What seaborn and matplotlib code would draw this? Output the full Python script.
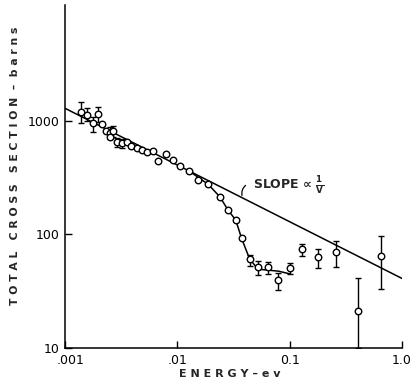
import numpy as np
import pandas as pd
import matplotlib
matplotlib.use("Agg")
import matplotlib.pyplot as plt
import matplotlib.transforms as mtransforms
import seaborn as sns

# ---- data ----
energy = [0.00139, 0.00157, 0.00179, 0.00198, 0.00215, 0.0023, 0.00251, 0.00251,
          0.00269, 0.00292, 0.00319, 0.00353, 0.00384, 0.00434, 0.00481, 0.00532,
          0.0061, 0.00675, 0.00785, 0.00918, 0.01067, 0.01274, 0.0153, 0.0188,
          0.0239, 0.0283, 0.0331, 0.0374, 0.0441, 0.0523, 0.0641, 0.0787, 0.100,
          0.1297, 0.1786, 0.260, 0.405, 0.644]
sigma = [1208, 1129, 954, 1146, 935, 817, 789, 727,
         817, 649, 636, 649, 602, 575, 555, 530,
         544, 444, 509, 453, 401, 363, 302, 277,
         215, 164, 134, 93, 60.6, 51.2, 51.2, 39.4, 50.4,
         74.2, 63.4, 70.6, 21.0, 64.1]
err_low = [955, 990, 805, 986, np.nan, np.nan, 700, np.nan,
           730, 590, 580, np.nan, np.nan, np.nan, np.nan, np.nan,
           np.nan, np.nan, np.nan, np.nan, np.nan, np.nan, np.nan, np.nan,
           np.nan, np.nan, np.nan, np.nan, 52.8, 44.2, 44.7, 32.3, 44.7,
           65.0, 51.0, 52.0, 10.0, 33.0]
err_high = [1480, 1300, 1091, 1337, np.nan, np.nan, 880, np.nan,
            904, 710, 700, np.nan, np.nan, np.nan, np.nan, np.nan,
            np.nan, np.nan, np.nan, np.nan, np.nan, np.nan, np.nan, np.nan,
            np.nan, np.nan, np.nan, np.nan, 66.2, 58.6, 57.8, 45.6, 56.6,
            82.6, 74.2, 88.0, 41.4, 97.0]

# hand-drawn curve through the resonance dip
curve_energy = [0.0127, 0.0188, 0.0239, 0.0283, 0.0331, 0.0374, 0.0441, 0.0523,
                0.0641, 0.080, 0.100]
curve_sigma = [363, 277, 215, 164, 134, 92, 60.6, 49.5, 48.5, 47.5, 45.0]

# 1/v reference line
line_energy = [0.001, 1.0]
line_sigma = [1294, 41]

x_ticks = [0.001, 0.01, 0.1, 1.0]
x_ticklabels = [".001", ".01", "0.1", "1.0"]
y_ticks = [10, 100, 1000]
y_ticklabels = ["10", "100", "1000"]

# ---- plotting ----
sns.set_style("ticks")
plt.rcParams["font.family"] = ["DejaVu Sans"]

fig = plt.figure(figsize=(4.12, 3.82), dpi=100)
ax = fig.add_axes([65 / 412, 34 / 382, 337 / 412, 343 / 382])
ax.set_xscale("log")
ax.set_yscale("log")

pts = pd.DataFrame({"E": energy, "s": sigma, "lo": err_low, "hi": err_high})
has_err = pts.dropna()
ax.errorbar(has_err["E"], has_err["s"],
            yerr=[has_err["s"] - has_err["lo"], has_err["hi"] - has_err["s"]],
            fmt="none", ecolor="black", elinewidth=1.0, capsize=2.2, capthick=1.0,
            zorder=2, clip_on=True)

sns.lineplot(x=line_energy, y=line_sigma, ax=ax, color="black", linewidth=1.1,
             zorder=1)
sns.lineplot(x=curve_energy, y=curve_sigma, ax=ax, color="black", linewidth=1.1,
             zorder=1, sort=False)
sns.scatterplot(data=pts, x="E", y="s", ax=ax, marker="o", s=22,
                facecolor="white", edgecolor="black", linewidth=1.0, zorder=3)

ax.set_xlim(0.001, 1.0)
ax.set_ylim(10, 10520)
ax.set_xticks(x_ticks)
ax.set_xticklabels(x_ticklabels)
ax.set_yticks(y_ticks)
ax.set_yticklabels(y_ticklabels)
ax.minorticks_off()
ax.tick_params(axis="both", direction="in", length=5, width=1.0,
               labelsize=9, colors="black", pad=4)
ax.tick_params(axis="x", pad=4)

# nudge the first x label right, as in the reference
first = ax.get_xticklabels()[0]
first.set_transform(first.get_transform() +
                    mtransforms.ScaledTranslation(6 / 100, 0, fig.dpi_scale_trans))

for side in ("top", "right"):
    ax.spines[side].set_visible(False)
for side in ("left", "bottom"):
    ax.spines[side].set_linewidth(1.1)
    ax.spines[side].set_color("black")

ax.set_xlabel("E N E R G Y – e v", fontsize=8, fontweight="bold")
ax.xaxis.set_label_coords(0.49, -0.062)
ax.set_ylabel("T O T A L   C R O S S   S E C T I O N  –  b a r n s",
              fontsize=7.8, fontweight="bold")
ax.yaxis.set_label_coords(-0.135, 0.53)

ax.text(0.0469, 273, r"SLOPE ∝ $\frac{\mathbf{1}}{\mathbf{V}}$",
        fontsize=9, fontweight="bold", va="center", ha="left")
ax.annotate("", xy=(0.0382, 209), xytext=(0.0424, 280),
            arrowprops=dict(arrowstyle="-", color="black", lw=0.9,
                            connectionstyle="arc3,rad=0.4"))

fig.savefig("out.png", dpi=100, facecolor="white")
